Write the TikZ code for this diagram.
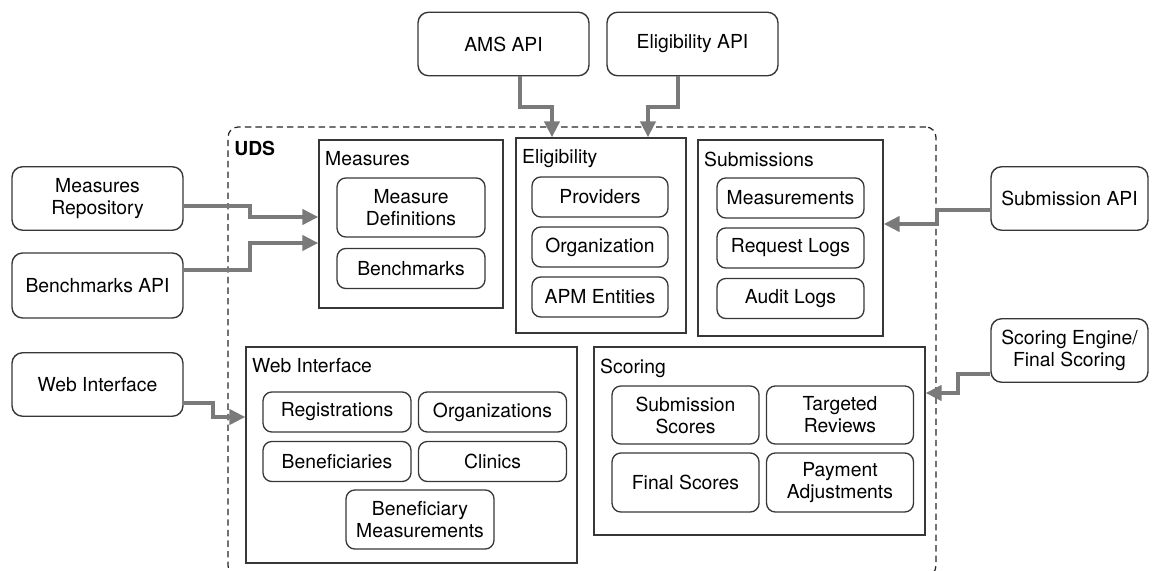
\documentclass[tikz,border=0pt]{standalone}
\usepackage{fontspec}
\setmainfont{TeX Gyre Heros}
\definecolor{flowgray}{RGB}{122, 122, 122}
\definecolor{edgegray}{RGB}{55, 55, 55}
\usepackage{tikz}
\usetikzlibrary{arrows.meta}

\begin{document}
\begin{tikzpicture}[x=0.02cm, y=-0.02cm,
  every node/.style={font=\fontsize{11}{12.5}\selectfont, align=center, inner sep=0pt},
  extbox/.style={draw=edgegray, line width=0.8pt, rounded corners=6pt, minimum width=3.42cm, minimum height=1.27cm},
  group/.style={draw=edgegray, line width=0.75pt},
  grouptitle/.style={anchor=north west, xshift=0.13cm, yshift=-0.24cm},
  item/.style={draw=edgegray, line width=0.75pt, rounded corners=5pt, minimum width=2.96cm, minimum height=0.8cm},
  flow/.style={draw=flowgray, line width=2.3pt, -{Triangle[length=0.32cm, width=0.3cm]}}
]
  \useasboundingbox (0,0) rectangle (1160,571);

  % UDS frame
  \node[draw=black!85, line width=0.7pt, dash pattern=on 3.6pt off 2.4pt, rounded corners=5.7pt,
    minimum width=14.16cm, minimum height=8.98cm] (uds) at (582,351.5) {};
  \node[grouptitle, font=\fontsize{11}{12.5}\selectfont\bfseries, yshift=-0.04cm] (udst) at (uds.north west) {UDS};

  % External services
  \node[extbox] (ams) at (503.5,44) {AMS API};
  \node[extbox] (eligapi) at (692.5,44) {Eligibility API};
  \node[extbox] (mrep) at (97.5,198.5) {Measures\\Repository};
  \node[extbox, minimum height=1.3cm] (bapi) at (97.5,285.5) {Benchmarks API};
  \node[extbox] (webext) at (97.5,384.5) {Web Interface};
  \node[extbox, minimum width=3.14cm] (subapi) at (1069.5,198.5) {Submission API};
  \node[extbox, minimum width=3.14cm] (scoreng) at (1069.5,350.5) {Scoring Engine/\\Final Scoring};

  % Measures
  \node[group, minimum width=3.68cm, minimum height=3.36cm] (measures) at (411,224) {};
  \node[grouptitle] (measurest) at (measures.north west) {Measures};
  \node[item, minimum height=1.18cm] (mdef) at (411,207.5) {Measure\\Definitions};
  \node[item] (bench) at (411,268.5) {Benchmarks};

  % Eligibility
  \node[group, minimum width=3.4cm, minimum height=3.9cm] (elig) at (601,235.5) {};
  \node[grouptitle] (eligt) at (elig.north west) {Eligibility};
  \node[item, minimum width=2.72cm] (prov) at (600,197) {Providers};
  \node[item, minimum width=2.72cm] (org) at (600,247) {Organization};
  \node[item, minimum width=2.72cm] (apm) at (600,297) {APM Entities};

  % Submissions
  \node[group, minimum width=3.7cm, minimum height=3.92cm] (subm) at (790.5,238) {};
  \node[grouptitle] (submt) at (subm.north west) {Submissions};
  \node[item, minimum width=2.94cm] (meas) at (790.5,198) {Measurements};
  \node[item, minimum width=2.94cm] (reqlog) at (790.5,248) {Request Logs};
  \node[item, minimum width=2.94cm] (audlog) at (790.5,298.5) {Audit Logs};

  % Web Interface
  \node[group, minimum width=6.62cm, minimum height=4.32cm] (webui) at (411.5,455) {};
  \node[grouptitle] (webuit) at (webui.north west) {Web Interface};
  \node[item] (reg) at (337,412) {Registrations};
  \node[item] (orgs) at (492.5,412) {Organizations};
  \node[item] (benef) at (337,461.5) {Beneficiaries};
  \node[item] (clin) at (492.5,461.5) {Clinics};
  \node[item, minimum height=1.18cm] (bmeas) at (420,519.5) {Beneficiary\\Measurements};

  % Scoring
  \node[group, minimum width=6.62cm, minimum height=3.76cm] (scoring) at (759.5,441) {};
  \node[grouptitle] (scoringt) at (scoring.north west) {Scoring};
  \node[item, minimum width=2.94cm, minimum height=1.16cm] (subsc) at (685.5,415) {Submission\\Scores};
  \node[item, minimum width=2.94cm, minimum height=1.16cm] (targ) at (840,415) {Targeted\\Reviews};
  \node[item, minimum width=2.94cm, minimum height=1.18cm] (finsc) at (685.5,482.5) {Final Scores};
  \node[item, minimum width=2.94cm, minimum height=1.18cm] (payadj) at (840,482.5) {Payment\\Adjustments};

  % Connectors
  \draw[flow] (mrep.east |- 0,206) -- (250,206) -- (250,217) -- (measures.west |- 0,217);
  \draw[flow] (bapi.east |- 0,270) -- (250,270) -- (250,243) -- (measures.west |- 0,243);
  \draw[flow] (ams.south -| 520,0) -- (520,107) -- (552,107) -- (elig.north -| 552,0);
  \draw[flow] (eligapi.south -| 678,0) -- (678,107) -- (648,107) -- (elig.north -| 648,0);
  \draw[flow] (subapi.west |- 0,210) -- (937,210) -- (937,224) -- (subm.east |- 0,224);
  \draw[flow] (scoreng.west |- 0,374) -- (958,374) -- (958,393) -- (scoring.east |- 0,393);
  \draw[flow] (webext.east |- 0,403) -- (213,403) -- (213,417) -- (webui.west |- 0,417);
\end{tikzpicture}
\end{document}
